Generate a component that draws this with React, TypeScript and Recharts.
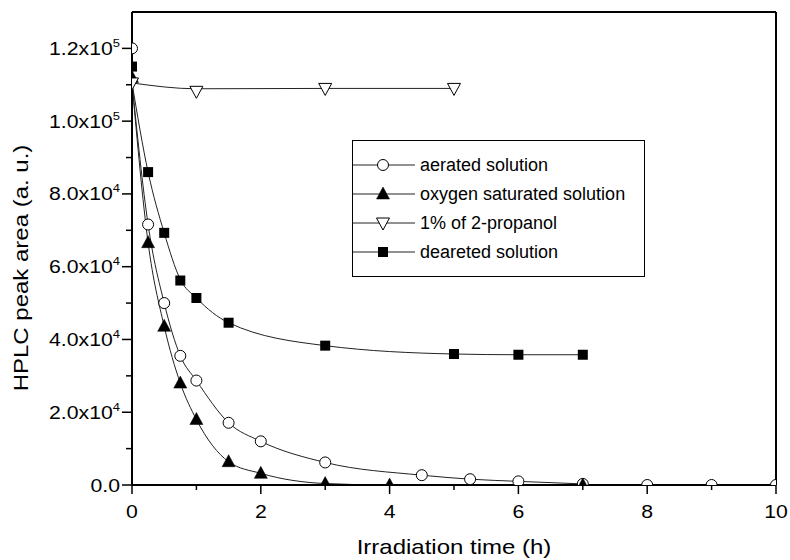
import React from 'react';
import { LineChart, Line, XAxis, YAxis, ReferenceLine, Legend, Label } from 'recharts';

const FONT = '"Liberation Sans", Arial, Helvetica, sans-serif';

// aerated solution (open circles)
const aeratedTime = [0, 0.25, 0.5, 0.75, 1, 1.5, 2, 3, 4.5, 5.25, 6, 7, 8, 9, 10];
const aeratedArea = [120000, 71600, 50000, 35500, 28700, 17100, 12000, 6200, 2700, 1600, 1000, 300, 0, 0, 0];
const aeratedFitTime = [0, 0.25, 0.5, 0.75, 1, 1.5, 2, 3, 4.5, 5.25, 6, 7];
const aeratedFit = [110500, 71600, 50000, 35500, 28700, 17100, 12000, 6200, 2700, 1600, 1000, 300];

// oxygen saturated solution (filled up triangles)
const oxygenTime = [0, 0.25, 0.5, 0.75, 1, 1.5, 2, 3, 4, 7];
const oxygenArea = [112000, 66600, 43600, 28000, 18000, 6400, 3200, 400, 0, 0];
const oxygenFitTime = [0, 0.25, 0.5, 0.75, 1, 1.5, 2, 3, 4, 7];
const oxygenFit = [110500, 66600, 43600, 28000, 18000, 6400, 3200, 400, 0, 0];

// 1% of 2-propanol (open down triangles)
const propanolTime = [0, 1, 3, 5];
const propanolArea = [110500, 108200, 109000, 109000];
const propanolFitTime = [0, 1, 3, 5];
const propanolFit = [110500, 108900, 109000, 109000];

// deareted solution (filled squares)
const dearetedTime = [0, 0.25, 0.5, 0.75, 1, 1.5, 3, 5, 6, 7];
const dearetedArea = [115000, 86000, 69300, 56200, 51400, 44600, 38300, 36000, 35800, 35800];
const dearetedFitTime = [0, 0.25, 0.5, 0.75, 1, 1.5, 3, 5, 6, 7];
const dearetedFit = [110500, 86000, 69300, 56500, 51400, 44600, 38300, 36000, 35800, 35800];

const seriesNames = ['aerated solution', 'oxygen saturated solution', '1% of 2-propanol', 'deareted solution'];
const seriesMarkers = ['circle', 'triangleUp', 'triangleDown', 'square'];

const xTicks = [0, 1, 2, 3, 4, 5, 6, 7, 8, 9, 10];
const yTicks = [0, 10000, 20000, 30000, 40000, 50000, 60000, 70000, 80000, 90000, 100000, 110000, 120000];

const xTitle = 'Irradiation time (h)';
const yTitle = 'HPLC peak area (a. u.)';

const toPoints = (ts: number[], vs: number[]) => ts.map((t, i) => ({ t, v: vs[i] }));

const drawMarker = (kind: string, cx: number, cy: number, key?: string | number) => {
  switch (kind) {
    case 'circle':
      return <circle key={key} cx={cx} cy={cy} r={5.5} fill="#fff" stroke="#000" strokeWidth={1} />;
    case 'triangleUp':
      return (
        <polygon key={key} points={`${cx},${cy - 7} ${cx - 6.5},${cy + 5} ${cx + 6.5},${cy + 5}`} fill="#000" stroke="#000" strokeWidth={0.5} />
      );
    case 'triangleDown':
      return (
        <polygon key={key} points={`${cx - 6.5},${cy - 5} ${cx + 6.5},${cy - 5} ${cx},${cy + 7}`} fill="#fff" stroke="#000" strokeWidth={1} />
      );
    default:
      return <rect key={key} x={cx - 5} y={cy - 5} width={10} height={10} fill="#000" />;
  }
};

const dotRenderer = (kind: string) => (p: any) => {
  if (p.cx == null || p.cy == null || p.value == null) return <g key={`e-${p.index}`} />;
  return drawMarker(kind, p.cx, p.cy, `${kind}-${p.index}`);
};

const YTick = (props: any) => {
  const { x, y, payload } = props;
  const v = payload.value as number;
  const major = v % 20000 === 0;
  const len = major ? 10 : 6;
  let mant = '0.0';
  let exp: string | null = null;
  if (v !== 0) {
    const e = v >= 100000 ? 5 : 4;
    mant = (v / Math.pow(10, e)).toFixed(1) + 'x10';
    exp = String(e);
  }
  return (
    <g>
      <line x1={x} x2={x - len} y1={y} y2={y} stroke="#000" strokeWidth={1.5} />
      {major && (
        <text
          transform={`translate(${x - 12},${y + 6.5}) scale(1.18,1)`}
          textAnchor="end"
          fontSize={18}
          fontFamily={FONT}
          fill="#000"
        >
          {mant}
          {exp && (
            <tspan dy={-8} fontSize={11}>
              {exp}
            </tspan>
          )}
        </text>
      )}
    </g>
  );
};

const XTick = (props: any) => {
  const { x, y, payload } = props;
  const v = payload.value as number;
  const major = v % 2 === 0;
  const len = major ? 9 : 5;
  return (
    <g>
      <line x1={x} x2={x} y1={y} y2={y + len} stroke="#000" strokeWidth={1.5} />
      {major && (
        <text
          transform={`translate(${x},${y + 33}) scale(1.18,1)`}
          textAnchor="middle"
          fontSize={18}
          fontFamily={FONT}
          fill="#000"
        >
          {String(v)}
        </text>
      )}
    </g>
  );
};

const XTitle = (props: any) => {
  const vb = props.viewBox || {};
  const cx = vb.x + vb.width / 2;
  return (
    <text
      transform={`translate(${cx},${vb.y + 69}) scale(1.2,1)`}
      textAnchor="middle"
      fontSize={20}
      fontFamily={FONT}
      fill="#000"
    >
      {xTitle}
    </text>
  );
};

const YTitle = () => {
  return (
    <text
      transform={`translate(28,268) rotate(-90) scale(1.2,1)`}
      textAnchor="middle"
      fontSize={20}
      fontFamily={FONT}
      fill="#000"
    >
      {yTitle}
    </text>
  );
};

const LegendBox = () => (
  <div
    style={{
      border: '1.5px solid #000',
      background: '#fff',
      boxSizing: 'border-box',
      width: 293,
      height: 137,
      paddingTop: 9,
      fontFamily: FONT,
      color: '#000',
    }}
  >
    {seriesNames.map((name, i) => (
      <div key={name} style={{ display: 'flex', alignItems: 'center', height: 29 }}>
        <svg width={62} height={20} style={{ display: 'block' }}>
          <line x1={0} x2={62} y1={10} y2={10} stroke="#222" strokeWidth={1} />
          {drawMarker(seriesMarkers[i], 30, 10)}
        </svg>
        <span
          style={{
            fontSize: 18,
            marginLeft: 5,
            display: 'inline-block',
            whiteSpace: 'nowrap',
            lineHeight: '20px',
          }}
        >
          {name}
        </span>
      </div>
    ))}
  </div>
);

const fits = [
  toPoints(aeratedFitTime, aeratedFit),
  toPoints(oxygenFitTime, oxygenFit),
  toPoints(propanolFitTime, propanolFit),
  toPoints(dearetedFitTime, dearetedFit),
];
const points = [
  toPoints(aeratedTime, aeratedArea),
  toPoints(oxygenTime, oxygenArea),
  toPoints(propanolTime, propanolArea),
  toPoints(dearetedTime, dearetedArea),
];

export default function App() {
  return (
    <div style={{ position: 'relative', width: 790, height: 560, background: '#fff' }}>
      <style>{'html,body{margin:0;padding:0;overflow:hidden;background:#fff}'}</style>
      <LineChart width={790} height={560} margin={{ top: 12, right: 14, bottom: 0, left: 0 }}>
        <XAxis
          dataKey="t"
          type="number"
          domain={[0, 10]}
          ticks={xTicks}
          interval={0}
          allowDataOverflow
          height={75}
          tickSize={0}
          tickMargin={0}
          tickLine={false}
          axisLine={{ stroke: '#000', strokeWidth: 2 }}
          tick={<XTick />}
        >
          <Label content={<XTitle />} />
        </XAxis>
        <YAxis
          type="number"
          domain={[0, 130000]}
          ticks={yTicks}
          interval={0}
          allowDataOverflow
          width={132}
          tickSize={0}
          tickMargin={0}
          tickLine={false}
          axisLine={{ stroke: '#000', strokeWidth: 2 }}
          tick={<YTick />}
        >
          <Label content={<YTitle />} />
        </YAxis>
        <ReferenceLine y={130000} stroke="#000" strokeWidth={2} />
        <ReferenceLine x={10} stroke="#000" strokeWidth={2} />
        {fits.map((d, i) => (
          <Line
            key={`fit-${i}`}
            data={d}
            dataKey="v"
            type="monotone"
            stroke="#222"
            strokeWidth={1}
            dot={false}
            activeDot={false}
            legendType="none"
            isAnimationActive={false}
          />
        ))}
        {points.map((d, i) => (
          <Line
            key={`pts-${i}`}
            data={d}
            dataKey="v"
            name={seriesNames[i]}
            stroke="none"
            strokeWidth={0}
            dot={dotRenderer(seriesMarkers[i])}
            activeDot={false}
            isAnimationActive={false}
          />
        ))}
        <Legend
          layout="horizontal"
          verticalAlign="middle"
          align="center"
          content={<LegendBox />}
          wrapperStyle={{ left: 352, top: 140, width: 293, height: 137 }}
        />
      </LineChart>
    </div>
  );
}
